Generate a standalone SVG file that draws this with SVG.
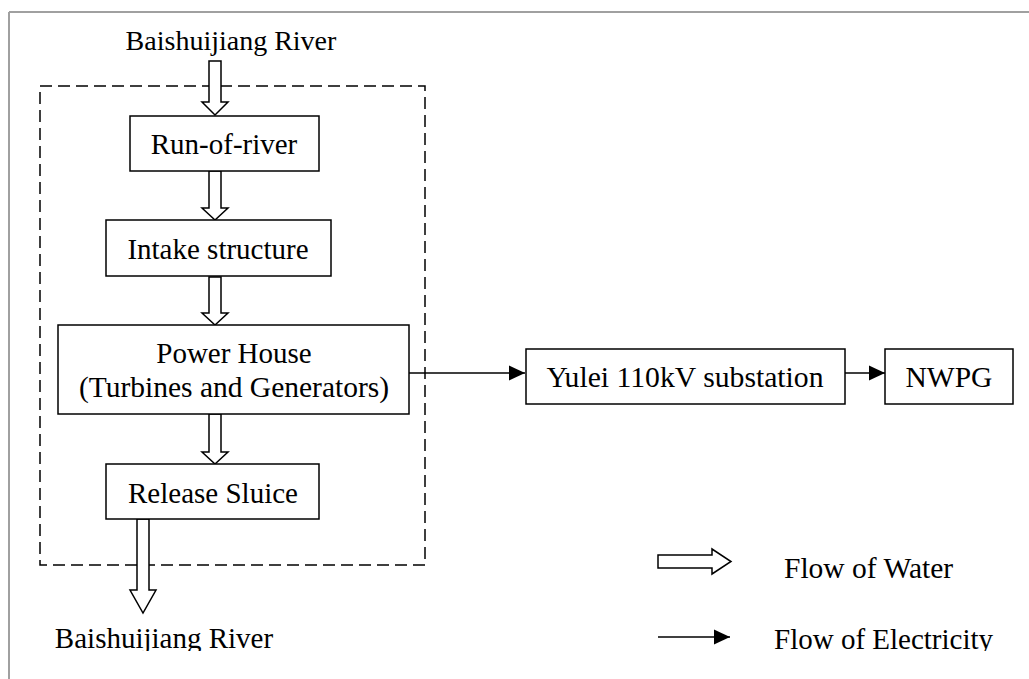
<svg xmlns="http://www.w3.org/2000/svg" width="1029" height="679" viewBox="0 0 1029 679">
<style>
.box{fill:#fff;stroke:#000;stroke-width:1.5}
.water{fill:#fff;stroke:#000;stroke-width:1.5;stroke-linejoin:miter}
.elec{fill:none;stroke:#000;stroke-width:1.5}
</style>
<defs>
<marker id="ah" markerWidth="16" markerHeight="16" viewBox="0 0 16 16" refX="16" refY="8" orient="auto" markerUnits="userSpaceOnUse">
<path d="M0,0.5 L16,8 L0,15.5 Z" fill="#000"/>
</marker>
<clipPath id="clip"><rect x="0" y="0" width="1029" height="651"/></clipPath>
</defs>
<rect x="0" y="0" width="1029" height="679" fill="#fff"/>
<g id="frame">
<line x1="9" y1="12" x2="1029" y2="12" stroke="#a0a0a0" stroke-width="2"/>
<line x1="9" y1="12" x2="9" y2="679" stroke="#a0a0a0" stroke-width="2"/>
</g>
<g id="boundary">
<rect x="40" y="86" width="385" height="479" fill="none" stroke="#000" stroke-width="1.5" stroke-dasharray="12,6"/>
</g>
<g id="connectors">
<polygon class="water" points="209,61 221,61 221,102 228,102 215,115 202,102 209,102"/>
<polygon class="water" points="209,171 221,171 221,208 228,208 215,220 202,208 209,208"/>
<polygon class="water" points="209,277 221,277 221,313 228,313 215,325 202,313 209,313"/>
<polygon class="water" points="209,414 221,414 221,452 228,452 215,464 202,452 209,452"/>
<polygon class="water" points="137,519 149,519 149,590 156,590 143,613 130,590 137,590"/>
<line class="elec" x1="405" y1="373" x2="525" y2="373" marker-end="url(#ah)"/>
<line class="elec" x1="838" y1="373" x2="885" y2="373" marker-end="url(#ah)"/>
</g>
<g id="river-in">
<text x="231" y="50" font-family="Liberation Serif" font-size="28" text-anchor="middle">Baishuijiang River</text>
</g>
<g id="run-of-river">
<rect class="box" x="130" y="116" width="189" height="55"/>
<text x="224" y="154" font-family="Liberation Serif" font-size="29" text-anchor="middle">Run-of-river</text>
</g>
<g id="intake">
<rect class="box" x="106" y="220" width="225" height="56"/>
<text x="218" y="259" font-family="Liberation Serif" font-size="29" text-anchor="middle">Intake structure</text>
</g>
<g id="powerhouse">
<rect class="box" x="58" y="325" width="351" height="89"/>
<text x="234" y="363" font-family="Liberation Serif" font-size="29" text-anchor="middle">Power House</text>
<text x="234" y="397" font-family="Liberation Serif" font-size="29.5" text-anchor="middle">(Turbines and Generators)</text>
</g>
<g id="sluice">
<rect class="box" x="106" y="464" width="213" height="55"/>
<text x="213" y="503" font-family="Liberation Serif" font-size="29" text-anchor="middle">Release Sluice</text>
</g>
<g id="river-out" clip-path="url(#clip)">
<text x="164" y="648" font-family="Liberation Serif" font-size="29" text-anchor="middle">Baishuijiang River</text>
</g>
<g id="yulei">
<rect class="box" x="526" y="349" width="319" height="55"/>
<text x="685" y="387" font-family="Liberation Serif" font-size="29.7" text-anchor="middle">Yulei 110kV substation</text>
</g>
<g id="nwpg">
<rect class="box" x="885" y="349" width="128" height="55"/>
<text x="949" y="387" font-family="Liberation Serif" font-size="29.5" text-anchor="middle">NWPG</text>
</g>
<g id="legend">
<polygon class="water" points="658,555 712,555 712,549 731,561.5 712,574 712,568 658,568"/>
<text x="784" y="578" font-family="Liberation Serif" font-size="29.5">Flow of Water</text>
<line class="elec" x1="658" y1="637" x2="730" y2="637" marker-end="url(#ah)"/>
<g clip-path="url(#clip)">
<text x="774" y="649" font-family="Liberation Serif" font-size="29">Flow of Electricity</text>
</g>
</g>
</svg>
